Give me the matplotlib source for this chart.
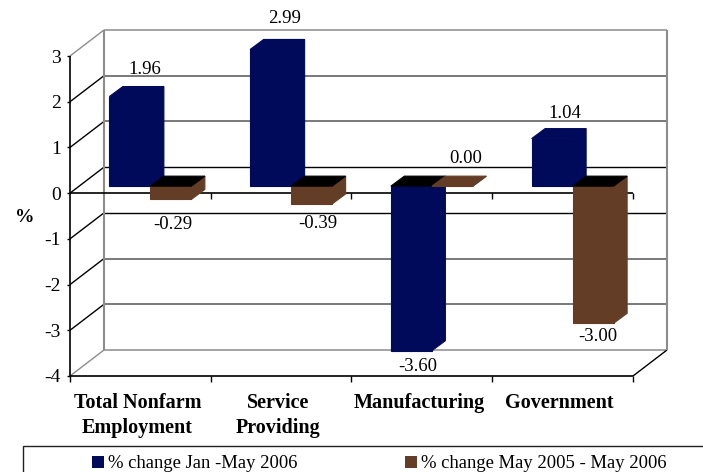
import matplotlib
matplotlib.use('Agg')
import matplotlib.pyplot as plt
from matplotlib.patches import Polygon, Rectangle

plt.rcParams['font.family'] = ['Liberation Serif', 'DejaVu Serif']
plt.rcParams['axes.unicode_minus'] = False

categories = ['Total Nonfarm\nEmployment', 'Service\nProviding', 'Manufacturing', 'Government']
jan_may_2006 = [1.96, 2.99, -3.60, 1.04]
may_to_may = [-0.29, -0.39, 0.00, -3.00]
series_names = ['% change Jan -May 2006', '% change May 2005 - May 2006']
y_ticks = [3, 2, 1, 0, -1, -2, -3, -4]

BLUE = '#000A5A'
BROWN = '#633D26'
GRAY = '#8C8C8C'

W, H = 703, 472
X_PX = 563 / 4   # px per category
Y_PX = 320 / 7   # px per % point

# depth of the box and of the bars, in data units
DX, DY = 34 / X_PX, 26 / Y_PX
BAR_DX, BAR_DY = 13.5 / X_PX, 10 / Y_PX
GAP_DX, GAP_DY = 10 / X_PX, 7 / Y_PX
BAR_W = 41 / X_PX

# label offsets from the bar's front edge (pixels)
jan_offsets = [(14.5, 27), (13.5, 31), (6.5, -15.5), (13, 25.5)]
may_offsets = [(1.5, -25), (6, -20), (13.5, 28), (4.5, -13)]

fig = plt.figure(figsize=(W / 100, H / 100), dpi=100)
ax = fig.add_axes([70 / W, (H - 376) / H, 563 / W, 320 / H])
ax.set_xlim(0, 4)
ax.set_ylim(-4, 3)
for s in ax.spines.values():
    s.set_visible(False)
ax.patch.set_visible(False)


def line(xs, ys, color='k', lw=1.0, z=1):
    ax.plot(xs, ys, color=color, lw=lw, clip_on=False, zorder=z, solid_capstyle='butt')


# back wall, grid and the slanted lines on the left
for v in y_ticks:
    c = GRAY if v in (3, -4) else ('#555555' if v in (2, 1, -2, -3) else 'k')
    line([DX, 4 + DX], [v + DY, v + DY], c, 1.1 if c != 'k' else 1.0)
    line([0, DX], [v, v + DY], GRAY if v in (3, -4) else 'k', 1.0)
line([DX, DX], [-4 + DY, 3 + DY], GRAY, 1.5, 2)
line([4 + DX, 4 + DX], [-4 + DY, 3 + DY], GRAY, 1.5, 2)
line([4, 4 + DX], [-4, -4 + DY], 'k', 1.0)

# axes
line([0, 0], [-4, 3], 'k', 1.2, 3)
line([0, 4], [-4, -4], 'k', 1.2, 3)
line([0, 4], [0, 0], 'k', 1.2, 3)
for i in range(1, 5):
    line([i, i], [0, -6 / Y_PX], 'k', 1.0, 3)

ax.set_yticks(y_ticks)
ax.set_xticks(range(5))
ax.set_xticklabels([])
ax.tick_params(axis='y', length=2.5, width=1, labelsize=14, pad=4)
ax.tick_params(axis='x', length=4, width=1, direction='out')
ax.set_xticks([i + 0.5 - 3 / X_PX for i in range(4)], minor=True)
ax.set_xticklabels(categories, minor=True, fontsize=14.5, fontweight='bold', linespacing=1.35)
ax.tick_params(axis='x', which='minor', length=0, pad=12)
for t in ax.get_xticklabels(minor=True):
    t.set_verticalalignment('top')


def bar3d(left, v, color, z):
    x0 = left + GAP_DX
    y0 = GAP_DY
    x1 = x0 + BAR_W
    ytop = y0 + v
    top_c = 'k' if v < 0 else color
    hi = max(y0, ytop)
    lo = min(y0, ytop)
    side = [(x1, lo), (x1 + BAR_DX, lo + BAR_DY), (x1 + BAR_DX, hi + BAR_DY), (x1, hi)]
    top = [(x0, hi), (x1, hi), (x1 + BAR_DX, hi + BAR_DY), (x0 + BAR_DX, hi + BAR_DY)]
    front = [(x0, lo), (x1, lo), (x1, hi), (x0, hi)]
    for pts, c in ((side, color), (front, color), (top, top_c)):
        ax.add_patch(Polygon(pts, closed=True, facecolor=c, edgecolor=c, lw=0.8, zorder=z, clip_on=False))


def bar_label(left, v, off):
    xc = left + GAP_DX + BAR_W / 2
    ax.annotate('%.2f' % v, (xc, GAP_DY + v), xytext=off, textcoords='offset pixels',
                ha='center', va='center', fontsize=13.5, annotation_clip=False, zorder=10)


for i in range(4):
    c = i + 0.5
    bar3d(c - BAR_W, jan_may_2006[i], BLUE, 5 + i * 2)
    bar3d(c, may_to_may[i], BROWN, 6 + i * 2)
    bar_label(c - BAR_W, jan_may_2006[i], jan_offsets[i])
    bar_label(c, may_to_may[i], may_offsets[i])

fig.text(24.5 / W, 1 - 218 / H, '%', fontsize=14, fontweight='bold', ha='center', va='center')

# legend box runs off the right and bottom of the picture
fig.add_artist(Rectangle((23 / W, -0.05), 1, 1 - 446 / H + 0.05, transform=fig.transFigure,
                         facecolor='none', edgecolor='#222222', lw=1.0))
for px, name, col in ((92, series_names[0], BLUE), (405, series_names[1], BROWN)):
    fig.add_artist(Rectangle((px / W, 1 - 468 / H), 12 / W, 12 / H, transform=fig.transFigure,
                             facecolor=col, edgecolor='none'))
    fig.text((px + 16) / W, 1 - 463 / H, name, fontsize=13.4, ha='left', va='center')

fig.savefig('out.png', dpi=100)
